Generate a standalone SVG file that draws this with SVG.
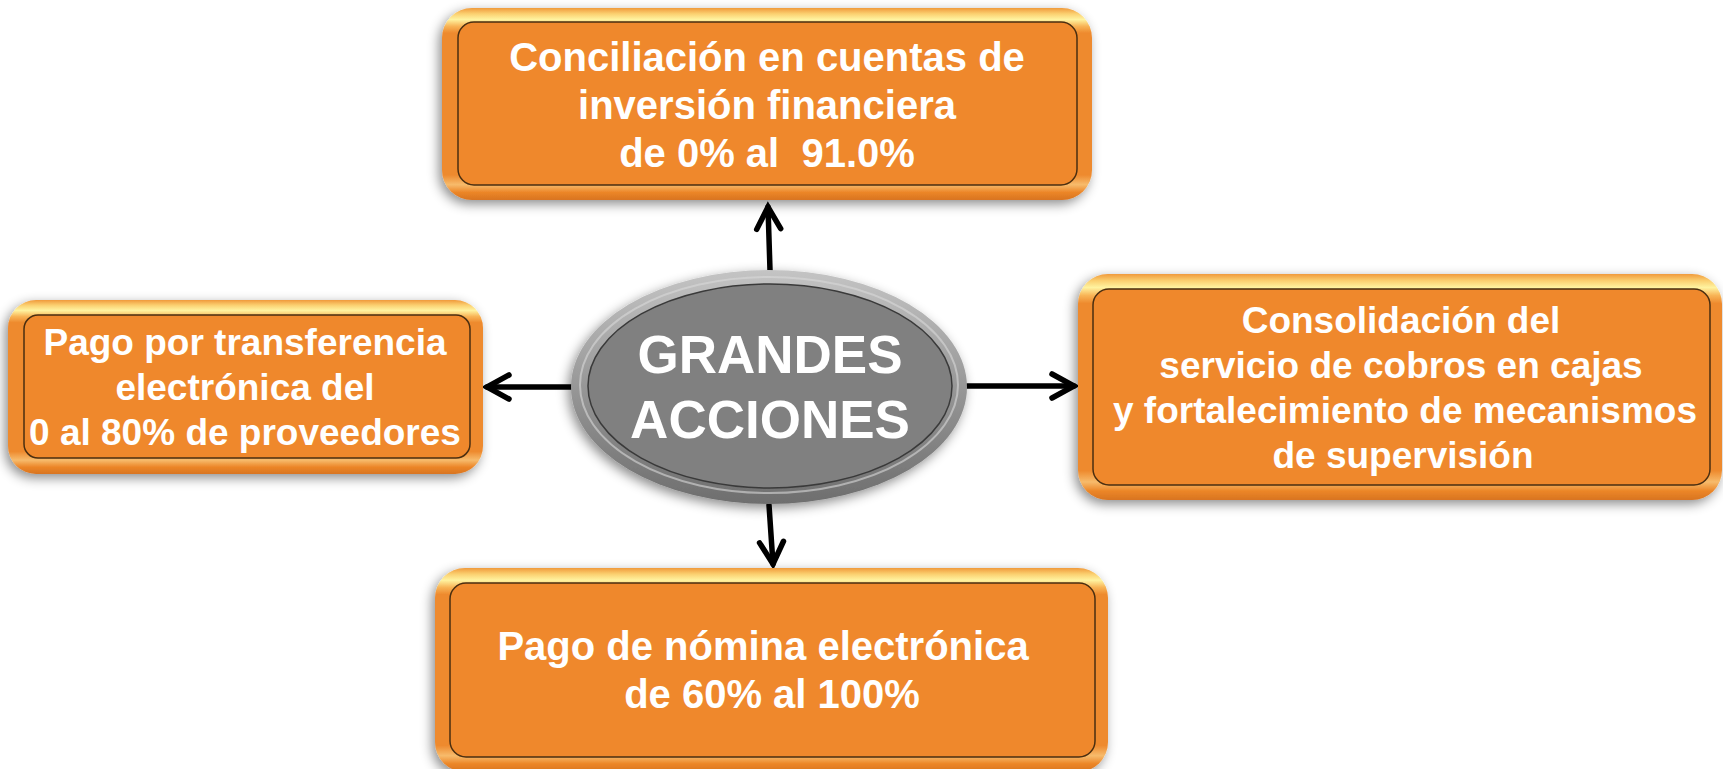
<svg xmlns="http://www.w3.org/2000/svg" width="1723" height="769" viewBox="0 0 1723 769">
<style>
.outer{fill:url(#gOuter);filter:url(#shadow)}
.inner{fill:#ef882c;stroke:#4a2e10;stroke-width:1.5}
.t{font-family:"Liberation Sans",Arial,sans-serif;font-weight:bold;fill:#ffffff;text-anchor:middle}
.conn{fill:none;stroke:#000000;stroke-width:5.5;stroke-linecap:round;marker-end:url(#arrow)}
</style>
<defs>
<linearGradient id="gOuter" x1="0" y1="0" x2="0" y2="1">
<stop offset="0" stop-color="#f09a3c"/>
<stop offset="0.03" stop-color="#fbd070"/>
<stop offset="0.06" stop-color="#fff3a0"/>
<stop offset="0.095" stop-color="#f8b456"/>
<stop offset="0.13" stop-color="#ee8a2e"/>
<stop offset="0.87" stop-color="#ee8a2e"/>
<stop offset="0.92" stop-color="#f7bb6c"/>
<stop offset="0.96" stop-color="#ec8628"/>
<stop offset="1" stop-color="#d87420"/>
</linearGradient>
<linearGradient id="gRing" x1="0" y1="0" x2="0" y2="1">
<stop offset="0" stop-color="#c4c4c4"/>
<stop offset="0.5" stop-color="#979797"/>
<stop offset="1" stop-color="#6e6e6e"/>
</linearGradient>
<filter id="shadow" x="-10%" y="-15%" width="120%" height="135%">
<feDropShadow dx="-3" dy="4" stdDeviation="6" flood-color="#000000" flood-opacity="0.45"/>
</filter>
<marker id="arrow" markerUnits="userSpaceOnUse" viewBox="-30 -16 36 32" markerWidth="36" markerHeight="32" refX="0" refY="0" orient="auto" overflow="visible">
<path d="M -22 -12 L 0 0 L -22 12" fill="none" stroke="#000000" stroke-width="5.5" stroke-linecap="round" stroke-linejoin="miter"/>
</marker>
</defs>
<rect width="1723" height="769" fill="#ffffff"/>

<g id="connectors">
<path class="conn" d="M 770 270 L 768 207"/>
<path class="conn" d="M 573 387 L 487 387"/>
<path class="conn" d="M 967 386 L 1074 386"/>
<path class="conn" d="M 769 505 L 773 564"/>
</g>

<g id="node-top">
<rect class="outer" x="442" y="8" width="650" height="192" rx="30"/>
<rect class="inner" x="458" y="22" width="619" height="163" rx="16"/>
<text class="t" font-size="40"><tspan x="767" y="71">Conciliación en cuentas de</tspan><tspan x="767" y="119">inversión financiera</tspan><tspan x="767" y="167">de 0% al &#160;91.0%</tspan></text>
</g>

<g id="node-left">
<rect class="outer" x="8" y="300" width="475" height="174" rx="28"/>
<rect class="inner" x="24" y="315" width="446" height="143" rx="14"/>
<text class="t" font-size="37"><tspan x="245" y="355">Pago por transferencia</tspan><tspan x="245" y="400">electrónica del</tspan><tspan x="245" y="445">0 al 80% de proveedores</tspan></text>
</g>

<g id="node-right">
<rect class="outer" x="1078" y="274" width="644" height="226" rx="30"/>
<rect class="inner" x="1093" y="289" width="617" height="196" rx="16"/>
<text class="t" font-size="37"><tspan x="1401" y="333">Consolidación del</tspan><tspan x="1401" y="378">servicio de cobros en cajas</tspan><tspan x="1405" y="423">y fortalecimiento de mecanismos</tspan><tspan x="1403" y="468">de supervisión</tspan></text>
</g>

<g id="node-bottom">
<rect class="outer" x="435" y="568" width="673" height="204" rx="30"/>
<rect class="inner" x="450" y="583" width="645" height="174" rx="16"/>
<text class="t" font-size="40"><tspan x="763" y="660">Pago de nómina electrónica</tspan><tspan x="772" y="708">de 60% al 100%</tspan></text>
</g>

<g id="node-center">
<ellipse cx="769" cy="387" rx="198" ry="117" fill="url(#gRing)" filter="url(#shadow)"/>
<ellipse cx="769" cy="385" rx="189" ry="108" fill="none" stroke="#d8d8d8" stroke-width="2" opacity="0.6"/>
<ellipse cx="770" cy="386" rx="182" ry="102" fill="#808080" stroke="#3a3a3a" stroke-width="1.5"/>
<text class="t" font-size="53"><tspan x="770" y="373">GRANDES</tspan><tspan x="770" y="438">ACCIONES</tspan></text>
</g>
</svg>
